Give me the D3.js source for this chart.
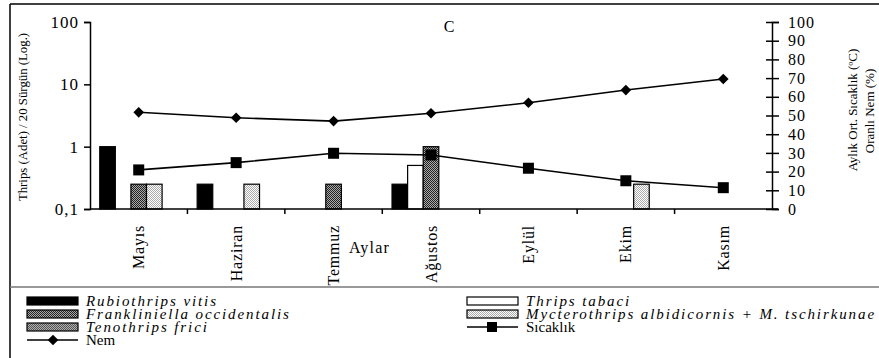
<!DOCTYPE html>
<html>
<head>
<meta charset="utf-8">
<script src="https://cdn.jsdelivr.net/npm/d3@7"></script>
<style>
  body { margin: 0; background: #fff; }
  svg text { font-family: "Liberation Serif", "Times New Roman", serif; fill: #000; }
</style>
</head>
<body>
<div id="chart"></div>
<script>
// months on the x axis
var months = ['Mayıs', 'Haziran', 'Temmuz', 'Ağustos', 'Eylül', 'Ekim', 'Kasım'];
// thrips counts per 20 shoots (log axis), 0 = nothing drawn
var rubiothrips = [1, 0.25, 0, 0.25, 0, 0, 0];
var thripsTabaci = [0, 0, 0, 0.5, 0, 0, 0];
var frankliniella = [0.25, 0, 0.25, 1, 0, 0, 0];
var mycterothrips = [0.25, 0.25, 0, 0, 0, 0.25, 0];
var tenothrips = [0, 0, 0, 0, 0, 0, 0];
// climate lines on the right axis
var nem = [51.7, 48.8, 47, 51.2, 56.8, 63.6, 69.5];
var sicaklik = [20.9, 24.8, 29.8, 28.9, 21.8, 15.1, 11.4];
var leftTicks = [0.1, 1, 10, 100];
var rightTicks = [0, 10, 20, 30, 40, 50, 60, 70, 80, 90, 100];

var seriesNames = ['Rubiothrips vitis', 'Thrips tabaci', 'Frankliniella occidentalis',
                   'Mycterothrips albidicornis + M. tschirkunae', 'Tenothrips frici'];
var seriesVals = [rubiothrips, thripsTabaci, frankliniella, mycterothrips, tenothrips];
var seriesFill = ['#000', '#fff', 'url(#pFrank)', 'url(#pMyct)', 'url(#pTeno)'];

function drawChart() {
  var W = 879, H = 358;
  var svg = d3.select('#chart').append('svg').attr('width', W).attr('height', H);

  // patterns for the dotted bars
  var defs = svg.append('defs');
  function checker(id, bg, fg) {
    var p = defs.append('pattern').attr('id', id).attr('width', 2).attr('height', 2)
      .attr('patternUnits', 'userSpaceOnUse');
    p.append('rect').attr('width', 2).attr('height', 2).attr('fill', bg);
    p.append('rect').attr('width', 1).attr('height', 1).attr('fill', fg);
    p.append('rect').attr('x', 1).attr('y', 1).attr('width', 1).attr('height', 1).attr('fill', fg);
  }
  checker('pFrank', '#aaa', '#222');
  checker('pMyct', '#fff', '#aaa');
  checker('pTeno', '#b0b0b0', '#555');

  // frame
  svg.append('line').attr('x1', 10).attr('x2', W).attr('y1', 4).attr('y2', 4)
    .attr('stroke', '#000').attr('stroke-width', 1.5);
  svg.append('line').attr('x1', 10).attr('x2', 10).attr('y1', 4).attr('y2', H)
    .attr('stroke', '#000').attr('stroke-width', 1.5);
  svg.append('line').attr('x1', 10).attr('x2', W).attr('y1', 287).attr('y2', 287)
    .attr('stroke', '#777').attr('stroke-width', 1.5);

  var pLeft = 90, pRight = 772, pTop = 22, pBottom = 209;

  var x0 = d3.scaleBand().domain(months).range([pLeft, pRight]).paddingInner(0.2).paddingOuter(0.1);
  var x1 = d3.scaleBand().domain(d3.range(seriesNames.length)).range([0, x0.bandwidth()]);
  var yLog = d3.scaleLog().domain([0.1, 100]).range([pBottom, pTop]);
  var yR = d3.scaleLinear().domain([0, 100]).range([pBottom, pTop]);

  // bars
  seriesVals.forEach(function(vals, s) {
    svg.append('g').selectAll('rect')
      .data(vals.map(function(v, i) { return {m: months[i], v: v}; }).filter(function(d) { return d.v > 0; }))
      .enter().append('rect')
      .attr('x', function(d) { return x0(d.m) + x1(s); })
      .attr('width', x1.bandwidth())
      .attr('y', function(d) { return yLog(d.v); })
      .attr('height', function(d) { return pBottom - yLog(d.v); })
      .attr('fill', seriesFill[s])
      .attr('stroke', '#000').attr('stroke-width', 1.2);
  });

  // left axis
  var gl = svg.append('g').attr('transform', 'translate(' + pLeft + ',0)')
    .call(d3.axisLeft(yLog).tickValues(leftTicks).tickSize(6).tickPadding(5)
      .tickFormat(function(d) { return d === 0.1 ? '0,1' : d3.format('d')(d); }));
  gl.select('.domain').attr('stroke-width', 1.5);
  gl.selectAll('.tick line').attr('stroke-width', 1.5);
  gl.selectAll('text').attr('font-size', 17).attr('letter-spacing', 1)
    .style('font-family', '"Liberation Serif", serif');

  // right axis
  var gr = svg.append('g').attr('transform', 'translate(' + pRight + ',0)')
    .call(d3.axisRight(yR).tickValues(rightTicks).tickSize(7).tickPadding(9));
  gr.select('.domain').attr('stroke-width', 1.5);
  gr.selectAll('.tick line').attr('x1', -6).attr('stroke-width', 1.5);
  gr.selectAll('text').attr('font-size', 16).attr('letter-spacing', 1)
    .style('font-family', '"Liberation Serif", serif');

  // x axis with ticks between months
  svg.append('line').attr('x1', pLeft).attr('x2', pRight + 6).attr('y1', pBottom).attr('y2', pBottom)
    .attr('stroke', '#000').attr('stroke-width', 1.5);
  svg.append('g').selectAll('line').data(months.slice(1)).enter().append('line')
    .attr('x1', function(m) { return x0(m) - x0.step() * x0.paddingInner() / 2; })
    .attr('x2', function(m) { return x0(m) - x0.step() * x0.paddingInner() / 2; })
    .attr('y1', pBottom).attr('y2', pBottom + 5)
    .attr('stroke', '#000').attr('stroke-width', 1.5);

  svg.append('g').selectAll('text').data(months).enter().append('text')
    .attr('transform', function(m) { return 'translate(' + (x0(m) + x0.bandwidth() / 2) + ',225) rotate(-90)'; })
    .attr('text-anchor', 'end').attr('dy', '0.35em')
    .attr('font-size', 16).attr('letter-spacing', 0.8)
    .text(function(m) { return m; });

  // lines
  var cx = function(d, i) { return x0(months[i]) + x0.bandwidth() / 2; };
  var line = d3.line().x(cx).y(function(d) { return yR(d); });
  svg.append('path').datum(nem).attr('d', line)
    .attr('fill', 'none').attr('stroke', '#000').attr('stroke-width', 1.6);
  svg.append('path').datum(sicaklik).attr('d', line)
    .attr('fill', 'none').attr('stroke', '#000').attr('stroke-width', 1.6);

  var diamond = d3.symbol().type(d3.symbolDiamond2).size(72);
  svg.append('g').selectAll('path').data(nem).enter().append('path')
    .attr('d', diamond)
    .attr('transform', function(d, i) { return 'translate(' + cx(d, i) + ',' + yR(d) + ')'; })
    .attr('fill', '#000');
  svg.append('g').selectAll('rect').data(sicaklik).enter().append('rect')
    .attr('x', function(d, i) { return cx(d, i) - 5.5; })
    .attr('y', function(d) { return yR(d) - 5.5; })
    .attr('width', 11).attr('height', 11).attr('fill', '#000');

  // titles
  svg.append('text').attr('x', 449).attr('y', 32).attr('text-anchor', 'middle')
    .attr('font-size', 16).text('C');
  svg.append('text').attr('x', 349).attr('y', 253).attr('font-size', 16)
    .attr('letter-spacing', 1.2).text('Aylar');
  svg.append('text').attr('transform', 'translate(27,117) rotate(-90)')
    .attr('text-anchor', 'middle').attr('font-size', 12.8).text('Thrips (Adet) / 20 Sürgün (Log.)');
  svg.append('text').attr('transform', 'translate(857,110) rotate(-90)')
    .attr('text-anchor', 'middle').attr('font-size', 13).text('Aylık Ort. Sıcaklık (ºC)');
  svg.append('text').attr('transform', 'translate(874,111) rotate(-90)')
    .attr('text-anchor', 'middle').attr('font-size', 13).text('Oranlı Nem (%)');

  // legend
  var legendItems = [
    {name: seriesNames[0], fill: seriesFill[0], x: 27, y: 301},
    {name: seriesNames[2], fill: seriesFill[2], x: 27, y: 314},
    {name: seriesNames[4], fill: seriesFill[4], x: 27, y: 327},
    {name: seriesNames[1], fill: seriesFill[1], x: 467, y: 301},
    {name: seriesNames[3], fill: seriesFill[3], x: 467, y: 314}
  ];
  var lg = svg.append('g');
  legendItems.forEach(function(it) {
    lg.append('rect').attr('x', it.x).attr('y', it.y - 4).attr('width', 51).attr('height', 8)
      .attr('fill', it.fill).attr('stroke', '#000').attr('stroke-width', 1.2);
    lg.append('text').attr('x', it.x + 59).attr('y', it.y + 5)
      .attr('font-size', 15).attr('font-style', 'italic').attr('letter-spacing', 1.9)
      .text(it.name);
  });
  // line legend entries
  lg.append('line').attr('x1', 27).attr('x2', 78).attr('y1', 340).attr('y2', 340)
    .attr('stroke', '#000').attr('stroke-width', 1.5);
  lg.append('path').attr('d', diamond).attr('transform', 'translate(53,340)').attr('fill', '#000');
  lg.append('text').attr('x', 86).attr('y', 345).attr('font-size', 15).text('Nem');
  lg.append('line').attr('x1', 467).attr('x2', 518).attr('y1', 327).attr('y2', 327)
    .attr('stroke', '#000').attr('stroke-width', 1.5);
  lg.append('rect').attr('x', 487).attr('y', 322).attr('width', 10).attr('height', 10).attr('fill', '#000');
  lg.append('text').attr('x', 526).attr('y', 332).attr('font-size', 15).text('Sıcaklık');
}

drawChart();
</script>
</body>
</html>
